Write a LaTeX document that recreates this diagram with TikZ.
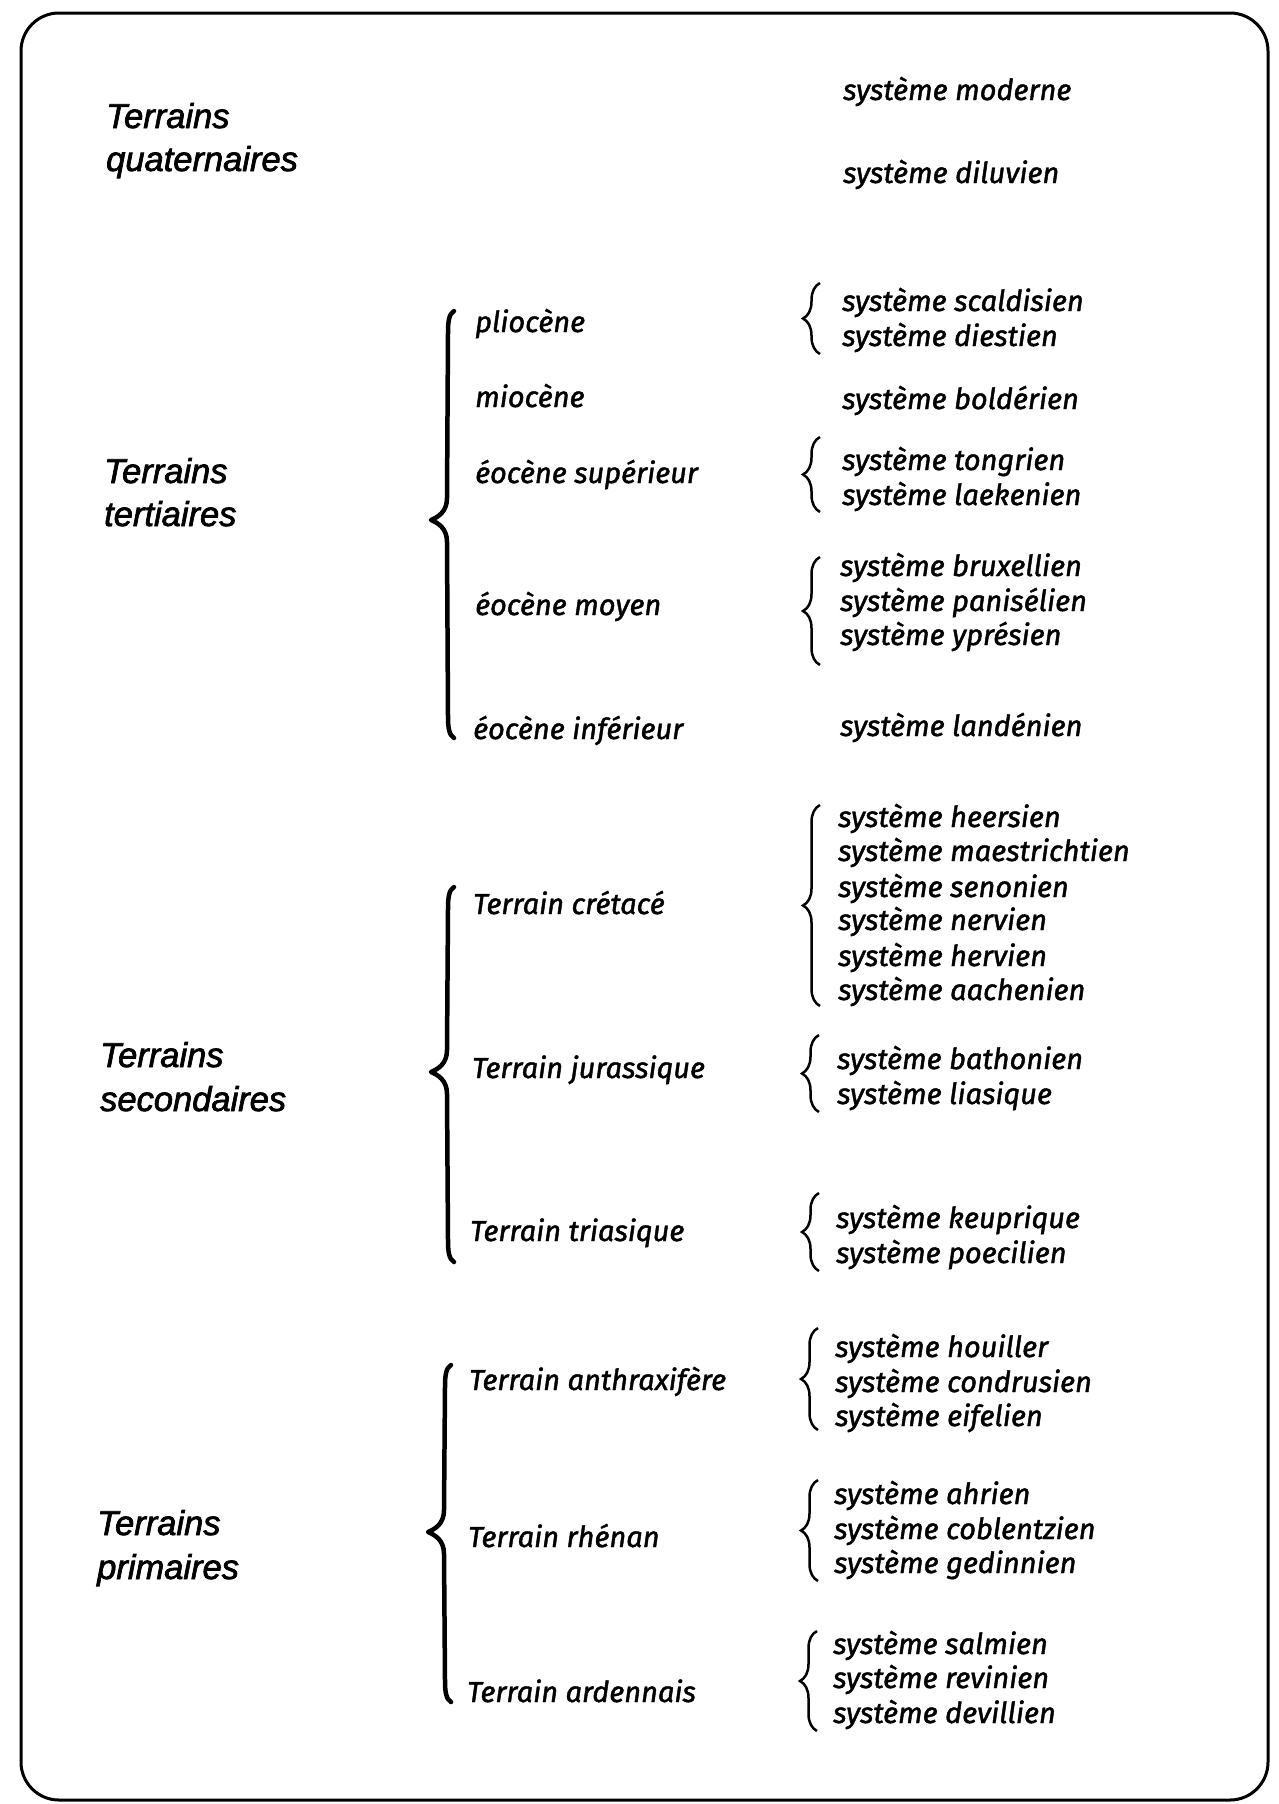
\documentclass[tikz,border=0pt]{standalone}
\usepackage{fontspec}
\setmainfont{Liberation Sans}
\newfontfamily\bigf{Liberation Sans}[FakeBold=2]
\newfontfamily\smf{Fira Sans}[FakeBold=1.5]
\usetikzlibrary{decorations.pathreplacing}
\newcommand\mybigbrace[4]{%
 \draw[bigbr] ({#1+7},#2) .. controls ({#1+2},{#2+3}) and ({#1+1},{#2+10}) .. ({#1+1},{#2+22}) -- (#1,{#3-22}) .. controls (#1,{#3-8}) and ({#1-9},{#3-3}) .. ({#1-16},#3) .. controls ({#1-9},{#3+3}) and (#1,{#3+8}) .. (#1,{#3+22}) -- ({#1+1},{#4-22}) .. controls ({#1+1},{#4-10}) and ({#1+2},{#4-3}) .. ({#1+7},#4);}
\newcommand\mysmallbrace[3]{%
 \draw[smallbr] (#1,#3) -- (#1,#2);}
\begin{document}
\begin{tikzpicture}[x=1pt,y=-1pt,
 big/.style={anchor=base west, inner sep=0, font=\bigf\itshape\fontsize{34.5}{40}\selectfont},
 mid/.style={anchor=base west, inner sep=0, font=\smf\itshape\fontsize{29}{34}\selectfont},
 sys/.style={mid},
 bigbr/.style={line width=4.5pt, line cap=round, line join=round},
 smallbr/.style={decorate, decoration={brace, amplitude=17pt}, line width=2.5pt}]

\useasboundingbox (0,0) rectangle (1279,1804);
\fill[white] (0,0) rectangle (1279,1804);
\draw[line width=3pt, rounded corners=38pt] (21,13) rectangle (1268,1800);

% big labels
\node[big] (q1) at (106,128) {Terrains};
\node[big] (q2) at (106,171) {quaternaires};
\node[big] (t1) at (104,483) {Terrains};
\node[big] (t2) at (104,526) {tertiaires};
\node[big] (s1) at (100,1067) {Terrains};
\node[big] (s2) at (100,1111) {secondaires};
\node[big] (p1) at (97,1535) {Terrains};
\node[big] (p2) at (97,1579) {primaires};

% big braces
\mybigbrace{447}{311}{520}{738}
\mybigbrace{447}{887}{1072}{1262}
\mybigbrace{444}{1365}{1532}{1702}

% middle labels
\node[mid] (plio) at (475,332) {pliocène};
\node[mid] (mio) at (475,407) {miocène};
\node[mid] (eos) at (475,483) {éocène supérieur};
\node[mid] (eom) at (475,615) {éocène moyen};
\node[mid] (eoi) at (473,739) {éocène inférieur};
\node[mid] (cre) at (473,914) {Terrain crétacé};
\node[mid] (jur) at (472,1078) {Terrain jurassique};
\node[mid] (tri) at (470,1241) {Terrain triasique};
\node[mid] (ant) at (469,1390) {Terrain anthraxifère};
\node[mid] (rhe) at (468,1547) {Terrain rhénan};
\node[mid] (ard) at (467,1702) {Terrain ardennais};

% small braces
\mysmallbrace{820}{283}{354}
\mysmallbrace{820}{437}{512}
\mysmallbrace{820}{557}{665}
\mysmallbrace{820}{805}{1006}
\mysmallbrace{819}{1035}{1112}
\mysmallbrace{819}{1193}{1271}
\mysmallbrace{818}{1328}{1430}
\mysmallbrace{818}{1480}{1581}
\mysmallbrace{817}{1631}{1731}

% systems
\node[sys] (mod) at (843,100) {système moderne};
\node[sys] (dil) at (843,183) {système diluvien};
\node[sys] (sca) at (842,311) {système scaldisien};
\node[sys] (die) at (842,346) {système diestien};
\node[sys] (bol) at (842,409) {système boldérien};
\node[sys] (ton) at (842,470) {système tongrien};
\node[sys] (lae) at (842,505) {système laekenien};
\node[sys] (bru) at (840,576) {système bruxellien};
\node[sys] (pan) at (840,611) {système panisélien};
\node[sys] (ypr) at (840,645) {système yprésien};
\node[sys] (lan) at (840,736) {système landénien};
\node[sys] (hee) at (838,827) {système heersien};
\node[sys] (mae) at (838,861) {système maestrichtien};
\node[sys] (sen) at (838,897) {système senonien};
\node[sys] (ner) at (838,930) {système nervien};
\node[sys] (her) at (838,966) {système hervien};
\node[sys] (aac) at (838,1000) {système aachenien};
\node[sys] (bat) at (837,1069) {système bathonien};
\node[sys] (lia) at (837,1104) {système liasique};
\node[sys] (keu) at (836,1228) {système keuprique};
\node[sys] (poe) at (836,1263) {système poecilien};
\node[sys] (hou) at (835,1357) {système houiller};
\node[sys] (con) at (835,1392) {système condrusien};
\node[sys] (eif) at (835,1426) {système eifelien};
\node[sys] (ahr) at (834,1504) {système ahrien};
\node[sys] (cob) at (834,1539) {système coblentzien};
\node[sys] (ged) at (834,1573) {système gedinnien};
\node[sys] (sal) at (833,1654) {système salmien};
\node[sys] (rev) at (833,1688) {système revinien};
\node[sys] (dev) at (833,1723) {système devillien};
\end{tikzpicture}
\end{document}
